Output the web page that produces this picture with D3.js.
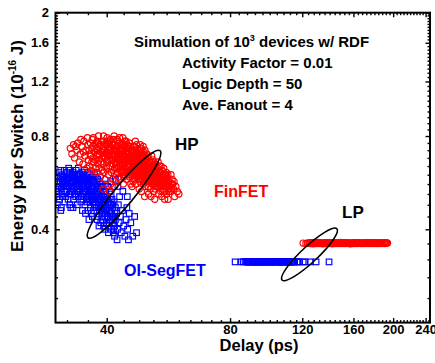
<!DOCTYPE html>
<html>
<head>
<meta charset="utf-8">
<script src="https://cdn.jsdelivr.net/npm/d3@7"></script>
<style>
  body { margin: 0; background: #fff; }
  svg { display: block; font-family: Arial, "Liberation Sans", sans-serif; font-weight: bold; }
</style>
</head>
<body>
<svg id="chart" width="435" height="363"></svg>
<script>
const delayTicks = [40, 80, 120, 160, 200, 240];
const energyTicks = [0.4, 0.8, 1.2, 1.6, 2];

// [delay (ps), energy (1e-16 J)]
const finfetHp = [
  [32.6,0.73],[32.9,0.70],[33.2,0.75],[33.4,0.68],[33.8,0.72],[34.0,0.76],[34.3,0.66],[34.5,0.70],[34.8,0.74],[35.0,0.65],
  [35.2,0.77],[35.4,0.69],[35.6,0.72],[35.8,0.63],[36.0,0.75],[35.1,0.71],[34.6,0.78],[33.6,0.74],[36.1,0.67],[35.9,0.79],
  [36.3,0.64],[36.4,0.70],[36.5,0.76],[36.7,0.62],[36.8,0.73],[37.0,0.68],[37.1,0.79],[37.2,0.66],[37.4,0.71],[37.5,0.75],
  [37.6,0.63],[37.8,0.69],[37.9,0.77],[38.0,0.72],[38.1,0.65],[38.2,0.80],[38.3,0.67],[38.4,0.74],[36.9,0.78],[37.3,0.61],
  [36.6,0.69],[37.7,0.73],[38.0,0.61],[38.4,0.70],[36.2,0.72],[37.0,0.74],[38.2,0.76],[37.5,0.67],[36.8,0.66],[38.3,0.63],
  [38.6,0.59],[38.7,0.66],[38.8,0.71],[38.9,0.77],[39.0,0.62],[39.1,0.69],[39.2,0.74],[39.3,0.80],[39.4,0.65],[39.5,0.72],
  [39.6,0.58],[39.7,0.68],[39.8,0.76],[39.9,0.63],[40.0,0.71],[40.1,0.79],[40.2,0.66],[40.3,0.74],[40.4,0.60],[40.5,0.69],
  [40.6,0.77],[40.7,0.64],[40.8,0.72],[40.9,0.56],[41.0,0.67],[39.2,0.54],[40.6,0.53],[38.9,0.68],[39.6,0.75],[40.2,0.70],
  [40.8,0.78],[39.4,0.61],[40.0,0.64],[39.1,0.73],[40.4,0.76],
  [41.1,0.61],[41.2,0.70],[41.3,0.76],[41.4,0.58],[41.5,0.65],[41.6,0.73],[41.7,0.80],[41.8,0.63],[41.9,0.68],[42.0,0.75],
  [42.1,0.57],[42.2,0.66],[42.3,0.71],[42.4,0.78],[42.5,0.61],[42.6,0.69],[42.7,0.74],[42.8,0.59],[42.9,0.67],[43.0,0.72],
  [41.3,0.67],[41.6,0.62],[41.9,0.72],[42.2,0.60],[42.5,0.77],[42.8,0.64],[41.5,0.78],[42.0,0.69],[42.7,0.70],[41.0,0.73],
  [42.3,0.63],[42.9,0.76],[41.8,0.55],[42.4,0.66],[43.0,0.79],
  [43.1,0.58],[43.2,0.64],[43.3,0.70],[43.4,0.75],[43.5,0.61],[43.6,0.67],[43.7,0.73],[43.8,0.79],[43.9,0.56],[44.0,0.63],
  [44.1,0.69],[44.2,0.74],[44.3,0.60],[44.4,0.66],[44.5,0.71],[44.6,0.77],[44.7,0.58],[44.8,0.64],[44.9,0.68],[45.0,0.73],
  [45.1,0.62],[45.2,0.67],[45.3,0.70],[45.4,0.76],[45.5,0.59],[45.6,0.65],[45.7,0.69],[45.8,0.72],[45.9,0.61],[46.0,0.67],
  [43.4,0.66],[43.9,0.71],[44.3,0.77],[44.8,0.61],[45.3,0.64],[45.8,0.56],[44.0,0.59],[44.6,0.69],[45.1,0.70],[45.6,0.74],
  [43.6,0.62],[44.2,0.65],[44.9,0.75],[45.5,0.68],[46.0,0.71],
  [46.1,0.55],[46.2,0.60],[46.3,0.65],[46.4,0.70],[46.5,0.74],[46.6,0.58],[46.7,0.63],[46.8,0.67],[46.9,0.72],[47.0,0.77],
  [47.1,0.56],[47.2,0.61],[47.3,0.65],[47.4,0.69],[47.5,0.73],[47.6,0.59],[47.7,0.63],[47.8,0.67],[47.9,0.71],[48.0,0.54],
  [48.1,0.60],[48.2,0.64],[48.3,0.68],[48.4,0.72],[46.3,0.68],[46.6,0.62],[46.9,0.66],[47.2,0.70],[47.5,0.62],[47.8,0.58],
  [48.1,0.66],[48.4,0.62],[46.4,0.57],[46.8,0.74],[47.3,0.75],[47.7,0.70],[48.2,0.57],[46.5,0.64],[47.0,0.60],[47.6,0.66],
  [48.0,0.69],[46.2,0.72],[47.1,0.68],[47.9,0.61],[48.3,0.75],
  [48.6,0.53],[48.7,0.58],[48.8,0.62],[48.9,0.66],[49.0,0.70],[49.1,0.74],[49.2,0.56],[49.3,0.60],[49.4,0.64],[49.5,0.68],
  [49.6,0.72],[49.7,0.55],[49.8,0.59],[49.9,0.63],[50.0,0.67],[50.1,0.70],[50.2,0.57],[50.3,0.61],[50.4,0.65],[50.5,0.69],
  [50.6,0.52],[50.7,0.58],[50.8,0.62],[50.9,0.66],[51.0,0.60],[48.7,0.65],[49.0,0.61],[49.4,0.57],[49.8,0.66],[50.2,0.64],
  [50.6,0.60],[48.9,0.69],[49.3,0.71],[49.7,0.62],[50.1,0.59],[50.5,0.55],[50.9,0.64],[49.5,0.51],[48.6,0.73],[50.3,0.68],
  [51.1,0.54],[51.2,0.58],[51.3,0.62],[51.4,0.66],[51.5,0.69],[51.6,0.56],[51.7,0.60],[51.8,0.64],[51.9,0.67],[52.0,0.53],
  [52.2,0.57],[52.4,0.61],[52.6,0.65],[52.8,0.55],[53.0,0.59],[53.2,0.63],[53.4,0.66],[53.6,0.52],[53.8,0.57],[54.0,0.61],
  [51.3,0.51],[51.8,0.58],[52.3,0.63],[52.7,0.59],[53.1,0.55],[53.5,0.60],[53.9,0.64],[51.5,0.63],[52.1,0.66],[52.5,0.54],
  [52.9,0.62],[53.3,0.57],[53.7,0.62],[51.9,0.61],[52.4,0.50],
  [54.2,0.55],[54.4,0.59],[54.6,0.62],[54.8,0.53],[55.0,0.57],[55.2,0.60],[55.4,0.50],[55.6,0.55],[55.8,0.58],[56.0,0.52],
  [56.2,0.56],[56.4,0.60],[56.6,0.54],[56.8,0.57],[55.1,0.63],[54.5,0.51],[55.9,0.61],[56.5,0.50],[54.9,0.56],[56.1,0.59],
  [55.5,0.53],[54.3,0.64],
  [57.2,0.53],[57.5,0.56],[57.8,0.58],[58.2,0.54],[58.6,0.51],[59.0,0.55],[59.5,0.53],[60.0,0.52],[57.4,0.60],[58.4,0.57],
  // dense core
  [43.2,0.68],[43.5,0.72],[43.8,0.65],[44.1,0.61],[44.4,0.73],[44.7,0.67],[45.0,0.64],[45.3,0.73],[45.6,0.61],[45.9,0.69],
  [43.3,0.62],[43.7,0.69],[44.0,0.75],[44.5,0.63],[44.9,0.71],[45.2,0.60],[45.7,0.66],[46.0,0.62],[43.9,0.67],[44.6,0.74],
  [46.2,0.66],[46.5,0.61],[46.8,0.69],[47.1,0.63],[47.4,0.67],[47.7,0.60],[48.0,0.65],[48.3,0.59],[48.6,0.68],[48.9,0.63],
  [46.4,0.72],[46.7,0.59],[47.0,0.65],[47.3,0.71],[47.6,0.64],[47.9,0.68],[48.2,0.62],[48.5,0.66],[48.8,0.60],[49.1,0.67],
  [49.2,0.62],[49.5,0.66],[49.8,0.61],[50.1,0.64],[50.4,0.58],[50.7,0.65],[51.0,0.62],[51.3,0.57],[51.6,0.64],[51.9,0.59],
  [49.4,0.69],[49.7,0.58],[50.0,0.62],[50.3,0.66],[50.6,0.63],[50.9,0.57],[51.2,0.61],[51.5,0.60],[51.8,0.62],[52.1,0.56],
  [52.2,0.62],[52.5,0.58],[52.8,0.61],[53.1,0.57],[53.4,0.60],[53.7,0.55],[54.0,0.58],[54.3,0.56],[54.6,0.59],[54.9,0.54],
  [52.4,0.64],[52.7,0.56],[53.0,0.62],[53.3,0.59],[53.6,0.58],[53.9,0.61],[54.2,0.53],[54.5,0.57],[54.8,0.60],[55.1,0.56],
  [55.3,0.58],[55.6,0.57],[55.9,0.55],[56.2,0.58],[56.5,0.56],[57.0,0.55],[57.6,0.54],[58.0,0.56],[55.7,0.60],[56.8,0.53],
  [41.5,0.70],[41.9,0.66],[42.3,0.74],[42.6,0.63],[42.9,0.70],[41.2,0.75],[41.7,0.69],[42.1,0.72],[42.7,0.67],[43.0,0.65],
  [39.0,0.72],[39.5,0.69],[40.0,0.75],[40.5,0.72],[39.8,0.70],[40.3,0.67],[38.5,0.75],[39.3,0.77],[40.7,0.74],[38.0,0.70]
];

const segfetHp = [
  [30.1,0.59],[30.2,0.53],[30.3,0.48],[30.4,0.56],[30.6,0.61],[30.7,0.50],[30.8,0.57],[30.9,0.46],[31.0,0.54],[31.1,0.60],
  [31.2,0.51],[31.3,0.58],[31.4,0.55],[31.5,0.62],[31.6,0.49],[31.7,0.56],[31.8,0.53],[31.9,0.59],[30.5,0.52],[31.0,0.47],
  [31.5,0.57],[30.9,0.62],[31.8,0.51],[30.2,0.57],
  [32.0,0.61],[32.1,0.55],[32.2,0.50],[32.3,0.58],[32.4,0.52],[32.5,0.62],[32.6,0.56],[32.7,0.47],[32.8,0.59],[32.9,0.53],
  [33.0,0.57],[33.1,0.61],[33.2,0.50],[33.3,0.55],[33.4,0.59],[33.5,0.52],[33.6,0.57],[33.7,0.62],[33.8,0.54],[33.9,0.48],
  [34.0,0.58],[34.1,0.51],[34.2,0.56],[34.3,0.60],[34.4,0.53],[34.5,0.57],[34.6,0.49],[34.7,0.55],[34.8,0.59],[34.9,0.52],
  [35.0,0.56],[32.3,0.63],[32.8,0.54],[33.3,0.60],[33.8,0.58],[34.3,0.55],[34.8,0.61],[32.5,0.48],[33.0,0.53],[33.6,0.51],
  [34.1,0.63],[34.6,0.58],[32.1,0.58],[33.1,0.47],[34.9,0.46],
  [35.1,0.60],[35.2,0.52],[35.3,0.57],[35.4,0.48],[35.5,0.55],[35.6,0.59],[35.7,0.50],[35.8,0.54],[35.9,0.58],[36.0,0.46],
  [36.1,0.52],[36.2,0.56],[36.3,0.60],[36.4,0.49],[36.5,0.54],[36.6,0.57],[36.7,0.51],[36.8,0.55],[36.9,0.44],[37.0,0.50],
  [37.1,0.53],[37.2,0.57],[37.3,0.48],[37.4,0.52],[35.3,0.62],[35.8,0.51],[36.3,0.53],[36.8,0.59],[37.3,0.55],[35.5,0.45],
  [36.0,0.61],[36.5,0.47],[37.0,0.58],[35.1,0.55],[35.9,0.49],[36.7,0.45],[37.4,0.60],[35.6,0.53],[36.2,0.43],[36.9,0.52],
  [37.2,0.46],[35.4,0.58],[36.1,0.58],[36.6,0.50],[37.1,0.49],
  [37.6,0.51],[37.7,0.55],[37.8,0.47],[37.9,0.53],[38.0,0.58],[38.1,0.44],[38.2,0.49],[38.3,0.54],[38.4,0.46],[38.5,0.51],
  [38.6,0.56],[38.7,0.42],[38.8,0.48],[38.9,0.52],[39.0,0.45],[39.1,0.50],[39.2,0.55],[39.3,0.41],[39.4,0.47],[39.5,0.51],
  [39.6,0.44],[39.7,0.49],[39.8,0.53],[39.9,0.46],[40.0,0.42],[37.7,0.59],[38.2,0.52],[38.7,0.50],[39.2,0.48],[39.7,0.45],
  [37.9,0.43],[38.4,0.57],[38.9,0.44],[39.4,0.53],[39.9,0.50],[38.0,0.50],[38.6,0.47],[39.1,0.43],[39.6,0.40],[37.6,0.47],
  [38.3,0.41],[38.8,0.55],[39.3,0.51],[39.8,0.56],[37.8,0.56],
  [40.1,0.47],[40.2,0.51],[40.3,0.44],[40.4,0.49],[40.5,0.41],[40.6,0.46],[40.7,0.53],[40.8,0.43],[40.9,0.48],[41.0,0.40],
  [41.1,0.45],[41.2,0.50],[41.3,0.42],[41.4,0.47],[41.5,0.39],[41.6,0.44],[41.7,0.49],[41.8,0.41],[41.9,0.46],[42.0,0.43],
  [40.2,0.55],[40.6,0.42],[41.0,0.52],[41.4,0.44],[41.8,0.38],[40.4,0.39],[41.1,0.48],[41.6,0.40],[40.8,0.50],[42.0,0.47],
  [42.3,0.45],[42.5,0.40],[42.7,0.48],[42.9,0.42],[43.2,0.44],[43.4,0.39],[43.7,0.46],[44.0,0.41],[44.3,0.38],[44.6,0.43],
  [45.0,0.40],[45.4,0.45],[45.8,0.42],[46.3,0.38],[46.8,0.44],[47.3,0.39],[43.0,0.51],[44.8,0.47],[42.4,0.37],[45.2,0.37],
  [40.9,0.57],[42.6,0.55],[43.8,0.53],[44.9,0.51],[42.0,0.58],
  // dense core
  [31.2,0.56],[31.6,0.53],[32.0,0.57],[32.4,0.55],[32.8,0.57],[33.2,0.54],[33.6,0.56],[34.0,0.53],[34.4,0.58],[34.8,0.55],
  [31.4,0.59],[31.8,0.55],[32.2,0.59],[32.6,0.52],[33.0,0.60],[33.4,0.52],[33.8,0.60],[34.2,0.54],[34.6,0.51],[35.0,0.59],
  [35.2,0.55],[35.6,0.51],[36.0,0.55],[36.4,0.52],[36.8,0.54],[37.2,0.51],[35.4,0.53],[35.8,0.56],[36.2,0.50],[36.6,0.53],
  [37.0,0.55],[37.4,0.50],[35.0,0.50],[35.7,0.57],[36.3,0.57],[36.9,0.49],[37.6,0.49],[38.0,0.53],[38.4,0.49],[38.8,0.51],
  [39.2,0.46],[39.6,0.49],[40.0,0.46],[40.4,0.47],[37.8,0.52],[38.2,0.47],[38.6,0.53],[39.0,0.48],[39.4,0.49],[39.8,0.47],
  [40.2,0.49],[40.6,0.48],[41.0,0.46],[41.3,0.44],[38.1,0.55],[38.9,0.46],[39.5,0.45],[40.1,0.44],[40.7,0.45],[41.2,0.43],
  [30.4,0.54],[30.8,0.59],[31.1,0.52],[30.6,0.55],[30.3,0.51],[31.9,0.55],[32.5,0.60],[33.2,0.57],[33.9,0.56],[34.5,0.60]
];

const finfetLp = [
  [120.6,0.361],[122.5,0.360],[123.6,0.361],[124.8,0.362],[125.4,0.360],[126.0,0.361],[126.6,0.362],[127.1,0.359],[127.6,0.361],[128.0,0.362],
  [128.6,0.360],[129.2,0.360],[129.7,0.362],[130.1,0.361],[130.8,0.360],[131.4,0.363],[132.0,0.361],[132.6,0.360],[133.0,0.362],[133.5,0.361],
  [134.2,0.360],[134.9,0.359],[135.4,0.361],[136.0,0.362],[136.6,0.360],[137.2,0.361],[137.8,0.362],[138.5,0.360],[139.1,0.361],[139.7,0.362],
  [140.4,0.360],[141.0,0.361],[141.6,0.362],[142.2,0.359],[142.9,0.361],[143.6,0.361],[144.3,0.360],[145.0,0.362],[145.6,0.361],[146.3,0.360],
  [146.9,0.362],[147.5,0.361],[148.2,0.360],[148.9,0.363],[149.6,0.361],[150.4,0.360],[151.1,0.362],[151.8,0.361],[152.4,0.360],[153.0,0.362],
  [153.8,0.361],[154.6,0.360],[155.3,0.362],[156.1,0.361],[156.8,0.360],[157.5,0.359],[158.2,0.361],[159.0,0.362],[159.8,0.360],[160.6,0.361],
  [161.3,0.362],[162.1,0.360],[163.0,0.361],[163.8,0.362],[164.5,0.360],[165.2,0.361],[166.0,0.362],[166.9,0.360],[167.6,0.361],[168.4,0.361],
  [169.2,0.360],[170.1,0.362],[170.9,0.361],[171.7,0.360],[172.5,0.362],[173.4,0.361],[174.2,0.360],[175.0,0.362],[175.9,0.361],[176.8,0.360],
  [177.6,0.362],[178.5,0.361],[179.3,0.360],[180.2,0.362],[181.1,0.361],[182.0,0.360],[182.9,0.362],[183.9,0.361],[184.7,0.360],[185.6,0.361],
  [186.5,0.362],[187.5,0.360],[188.6,0.361],[189.8,0.362],[190.7,0.360],[191.6,0.361],[192.7,0.362],[193.8,0.361]
];

const segfetLp = [
  [82.3,0.314],[85.1,0.314],[86.1,0.314],[87.0,0.315],[87.8,0.314],[88.2,0.314],[88.6,0.313],[89.0,0.314],[89.5,0.314],[89.9,0.315],
  [90.3,0.315],[90.8,0.314],[91.2,0.314],[91.6,0.313],[92.0,0.314],[92.5,0.314],[92.9,0.313],[93.4,0.315],[93.8,0.314],[94.2,0.314],
  [94.6,0.315],[95.1,0.313],[95.5,0.314],[96.0,0.315],[96.4,0.314],[96.9,0.314],[97.3,0.313],[97.8,0.314],[98.2,0.314],[98.7,0.315],
  [99.1,0.315],[99.6,0.314],[100.1,0.314],[100.6,0.313],[101.0,0.314],[101.5,0.315],[102.0,0.313],[102.5,0.314],[103.0,0.314],[103.5,0.315],
  [104.0,0.315],[104.5,0.314],[105.0,0.314],[105.5,0.313],[106.0,0.314],[106.5,0.315],[107.0,0.313],[107.5,0.314],[108.0,0.314],[108.6,0.315],
  [109.1,0.315],[109.6,0.314],[110.1,0.314],[110.6,0.313],[111.1,0.314],[111.6,0.315],[112.1,0.313],[112.7,0.314],[113.2,0.314],[113.7,0.314],
  [114.3,0.314],[115.0,0.314],[116.6,0.314],[117.3,0.314],[118.1,0.314],[120.6,0.314],[122.0,0.314],[125.4,0.314],[129.7,0.314],[139.5,0.314]
];

// ellipses drawn round the HP and LP groups: centre in data units
const hpRing = { delay: 44.1, energy: 0.519 };
const lpRing = { delay: 125.0, energy: 0.332 };

document.addEventListener("DOMContentLoaded", draw);

function draw() {
  const margin = { top: 12.7, right: 5, bottom: 40.4, left: 55.5 };
  const svgW = 435;
  const svgH = 363;
  const svg = d3.select("#chart");

  const x = d3
    .scaleLog()
    .domain([30, 246])
    .range([margin.left, svgW - margin.right]);
  const y = d3
    .scaleLog()
    .domain([0.2, 2])
    .range([svgH - margin.bottom, margin.top]);

  const left = margin.left;
  const right = svgW - margin.right;
  const top = margin.top;
  const bottom = svgH - margin.bottom;

  svg
    .append("clipPath")
    .attr("id", "plot-clip")
    .append("rect")
    .attr("x", left)
    .attr("y", top)
    .attr("width", right - left)
    .attr("height", bottom - top);

  const plot = svg.append("g").attr("clip-path", "url(#plot-clip)");

  const sq = 5.6;
  function squares(data) {
    plot
      .append("g")
      .selectAll("rect")
      .data(data)
      .join("rect")
      .attr("x", (d) => x(d[0]) - sq / 2)
      .attr("y", (d) => y(d[1]) - sq / 2)
      .attr("width", sq)
      .attr("height", sq)
      .attr("fill", "none")
      .attr("stroke", "#0000ff")
      .attr("stroke-width", 1.15);
  }
  function circles(data) {
    plot
      .append("g")
      .selectAll("circle")
      .data(data)
      .join("circle")
      .attr("cx", (d) => x(d[0]))
      .attr("cy", (d) => y(d[1]))
      .attr("r", 3.1)
      .attr("fill", "none")
      .attr("stroke", "#ff0000")
      .attr("stroke-width", 1.15);
  }
  squares(segfetHp);
  squares(segfetLp);
  circles(finfetHp);
  circles(finfetLp);

  function ring(c, rx, ry, angle) {
    svg
      .append("ellipse")
      .attr("transform", `translate(${x(c.delay)},${y(c.energy)}) rotate(${angle})`)
      .attr("rx", rx)
      .attr("ry", ry)
      .attr("fill", "none")
      .attr("stroke", "#000")
      .attr("stroke-width", 1.6);
  }
  ring(hpRing, 56.5, 10, -50.5);
  ring(lpRing, 37.5, 8, -43);

  // axes, ticks point inwards on all four sides
  const fmt = (d) => (d === 2 ? "2" : d3.format(".1f")(d));
  const minorX = d3.range(32, 246, 4).filter((d) => d % 40 !== 0);
  const minorY = d3
    .range(6, 50)
    .map((i) => i * 0.04)
    .filter((d) => Math.round(d * 100) % 40 !== 0);

  function axisGroup(axis, tx, ty) {
    const g = svg
      .append("g")
      .attr("transform", `translate(${tx},${ty})`)
      .call(axis);
    g.select(".domain").remove();
    g.selectAll("line").attr("stroke", "#000").attr("stroke-width", 1.4);
    g.selectAll("text")
      .attr("fill", "#000")
      .style("font-size", "13px")
      .style("font-family", "Arial, 'Liberation Sans', sans-serif")
      .style("font-weight", "bold");
    return g;
  }

  axisGroup(d3.axisBottom(x).tickValues(delayTicks).tickFormat(d3.format("d")).tickSize(-4.5).tickPadding(2.6), 0, bottom);
  axisGroup(d3.axisBottom(x).tickValues(minorX).tickFormat("").tickSize(-2.5), 0, bottom);
  axisGroup(d3.axisTop(x).tickValues(delayTicks).tickFormat("").tickSize(-4.5), 0, top);
  axisGroup(d3.axisTop(x).tickValues(minorX).tickFormat("").tickSize(-2.5), 0, top);

  axisGroup(d3.axisLeft(y).tickValues(energyTicks).tickFormat(fmt).tickSize(-4.5).tickPadding(6.5), left, 0);
  axisGroup(d3.axisLeft(y).tickValues(minorY).tickFormat("").tickSize(-2.5), left, 0);
  axisGroup(d3.axisRight(y).tickValues(energyTicks).tickFormat("").tickSize(-4.5), right, 0);
  axisGroup(d3.axisRight(y).tickValues(minorY).tickFormat("").tickSize(-2.5), right, 0);

  svg
    .append("rect")
    .attr("x", left)
    .attr("y", top)
    .attr("width", right - left)
    .attr("height", bottom - top)
    .attr("fill", "none")
    .attr("stroke", "#000")
    .attr("stroke-width", 2);

  // axis titles
  svg
    .append("text")
    .attr("x", 259)
    .attr("y", 351)
    .attr("text-anchor", "middle")
    .style("font-size", "16.5px")
    .text("Delay (ps)");

  const yl = svg
    .append("text")
    .attr("transform", "translate(23,146) rotate(-90)")
    .attr("text-anchor", "middle")
    .style("font-size", "17px");
  yl.append("tspan").text("Energy per Switch (10");
  yl.append("tspan").attr("dy", -7).style("font-size", "10px").text("-16");
  yl.append("tspan").attr("dy", 7).text(" J)");

  // simulation notes
  const note = svg
    .append("text")
    .attr("x", 134)
    .attr("y", 47)
    .style("font-size", "15px");
  note.append("tspan").text("Simulation of 10");
  note.append("tspan").attr("dy", -6).style("font-size", "9px").text("3");
  note.append("tspan").attr("dy", 6).text(" devices w/ RDF");

  const lines = ["Activity Factor = 0.01", "Logic Depth = 50", "Ave. Fanout = 4"];
  svg
    .append("g")
    .selectAll("text")
    .data(lines)
    .join("text")
    .attr("x", 182)
    .attr("y", (d, i) => 68 + i * 21)
    .style("font-size", "15px")
    .text((d) => d);

  svg.append("text").attr("x", 175).attr("y", 150).style("font-size", "17px").text("HP");
  svg.append("text").attr("x", 342).attr("y", 218).style("font-size", "17px").text("LP");
  svg
    .append("text")
    .attr("x", 214)
    .attr("y", 197)
    .attr("fill", "#ff0000")
    .style("font-size", "16px")
    .text("FinFET");
  svg
    .append("text")
    .attr("x", 124)
    .attr("y", 276)
    .attr("fill", "#0000ff")
    .style("font-size", "16px")
    .text("OI-SegFET");
}
</script>
</body>
</html>
